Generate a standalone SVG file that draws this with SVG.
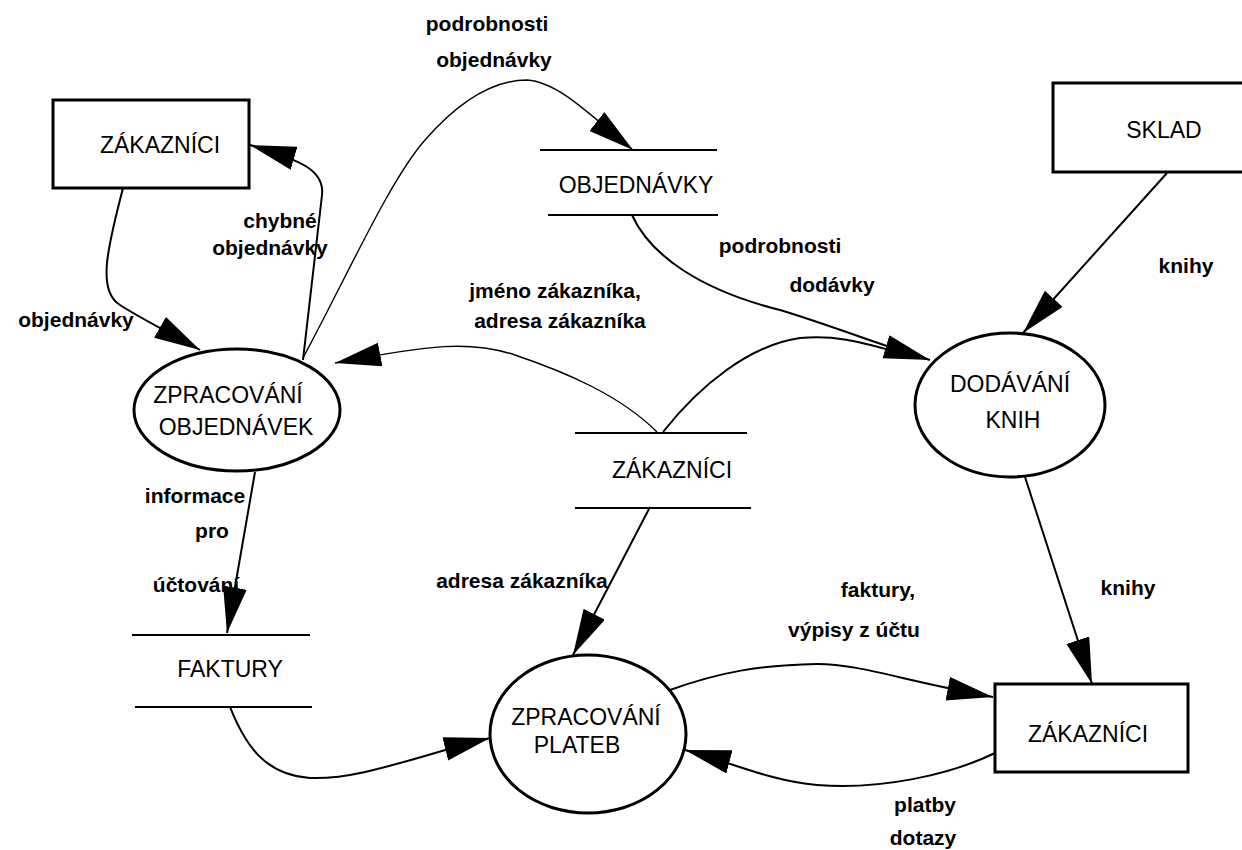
<svg xmlns="http://www.w3.org/2000/svg" width="1242" height="850" viewBox="0 0 1242 850">
<style>
.bg{fill:#fff}
.node{fill:#fff;stroke:#000;stroke-width:3}
.store{stroke:#000;stroke-width:2.2;fill:none}
.nt{font-family:"Liberation Sans",Arial,sans-serif;font-size:23px;fill:#000;text-anchor:middle}
.lb{font-family:"Liberation Sans",Arial,sans-serif;font-size:21px;font-weight:bold;fill:#000;text-anchor:middle}
.c{fill:none;stroke:#000;stroke-width:2}
.thin{stroke-width:1.4}
</style>
<defs>
<marker id="ah" markerUnits="userSpaceOnUse" markerWidth="48" markerHeight="26" refX="46" refY="12" orient="auto">
<path d="M0,0 L46,12 L0,24 Z" fill="#000"/>
</marker>
</defs>
<rect class="bg" x="0" y="0" width="1242" height="850"/>

<g id="labels">
<text class="lb" x="487" y="31">podrobnosti</text>
<text class="lb" x="494" y="67">objednávky</text>
<text class="lb" x="280" y="228">chybné</text>
<text class="lb" x="270" y="255">objednávky</text>
<text class="lb" x="76" y="327">objednávky</text>
<text class="lb" x="555" y="298">jméno zákazníka,</text>
<text class="lb" x="560" y="328">adresa zákazníka</text>
<text class="lb" x="780" y="253">podrobnosti</text>
<text class="lb" x="832" y="292">dodávky</text>
<text class="lb" x="1186" y="273">knihy</text>
<text class="lb" x="195" y="503">informace</text>
<text class="lb" x="212" y="538">pro</text>
<text class="lb" x="196" y="592">účtování</text>
<text class="lb" x="522" y="588">adresa zákazníka</text>
<text class="lb" x="878" y="597">faktury,</text>
<text class="lb" x="854" y="637">výpisy z účtu</text>
<text class="lb" x="1128" y="595">knihy</text>
<text class="lb" x="925" y="812">platby</text>
<text class="lb" x="923" y="845">dotazy</text>
</g>

<g id="connectors">
<path class="c" d="M123,188 C110,240 95,290 120,305 C140,318 170,333 200,350" marker-end="url(#ah)"/>
<path class="c" d="M303,360 L322,195 C325,170 300,160 250,145" marker-end="url(#ah)"/>
<path class="c thin" d="M303,358 C350,270 390,180 425,140 C460,100 495,80 527,80 C560,82 595,120 633,150" marker-end="url(#ah)"/>
<path class="c" d="M632,215 C650,255 700,290 780,310 C830,325 880,345 930,360" marker-end="url(#ah)"/>
<path class="c thin" d="M657,432 C620,395 565,372 515,355 C470,340 430,345 335,363" marker-end="url(#ah)"/>
<path class="c" d="M663,432 C700,385 750,345 800,338 C840,334 870,345 905,354"/>
<path class="c" d="M1167,173 L1023,333" marker-end="url(#ah)"/>
<path class="c" d="M255,472 L227,633" marker-end="url(#ah)"/>
<path class="c" d="M650,507 L573,655" marker-end="url(#ah)"/>
<path class="c" d="M230,707 C245,745 265,775 310,778 C360,780 420,755 490,738" marker-end="url(#ah)"/>
<path class="c" d="M670,690 C720,672 760,665 817,664 C860,664 900,680 993,697" marker-end="url(#ah)"/>
<path class="c" d="M995,753 C950,775 880,790 817,785 C770,781 730,762 685,750" marker-end="url(#ah)"/>
<path class="c" d="M1025,477 L1092,684" marker-end="url(#ah)"/>
</g>

<g id="zakaznici-top">
<rect class="node" x="53" y="100" width="196" height="88"/>
<text class="nt" x="160" y="153">ZÁKAZNÍCI</text>
</g>
<g id="sklad">
<rect class="node" x="1053" y="83" width="230" height="89"/>
<text class="nt" x="1164" y="138">SKLAD</text>
</g>
<g id="zakaznici-bottom">
<rect class="node" x="995" y="684" width="193" height="88"/>
<text class="nt" x="1088" y="742">ZÁKAZNÍCI</text>
</g>
<g id="zpracovani-objednavek">
<ellipse class="node" cx="237" cy="410" rx="103" ry="61"/>
<text class="nt" x="228" y="403">ZPRACOVÁNÍ</text>
<text class="nt" x="236" y="435">OBJEDNÁVEK</text>
</g>
<g id="dodavani-knih">
<ellipse class="node" cx="1010" cy="405" rx="95" ry="72"/>
<text class="nt" x="1010" y="392">DODÁVÁNÍ</text>
<text class="nt" x="1013" y="428">KNIH</text>
</g>
<g id="zpracovani-plateb">
<ellipse class="node" cx="588" cy="734" rx="98" ry="79"/>
<text class="nt" x="586" y="725">ZPRACOVÁNÍ</text>
<text class="nt" x="577" y="753">PLATEB</text>
</g>
<g id="store-objednavky">
<line class="store" x1="540" y1="150" x2="717" y2="150"/>
<line class="store" x1="548" y1="215" x2="718" y2="215"/>
<text class="nt" x="636" y="193">OBJEDNÁVKY</text>
</g>
<g id="store-zakaznici">
<line class="store" x1="575" y1="433" x2="747" y2="433"/>
<line class="store" x1="575" y1="508" x2="751" y2="508"/>
<text class="nt" x="672" y="478">ZÁKAZNÍCI</text>
</g>
<g id="store-faktury">
<line class="store" x1="132" y1="635" x2="310" y2="635"/>
<line class="store" x1="135" y1="707" x2="312" y2="707"/>
<text class="nt" x="230" y="677">FAKTURY</text>
</g>
</svg>
